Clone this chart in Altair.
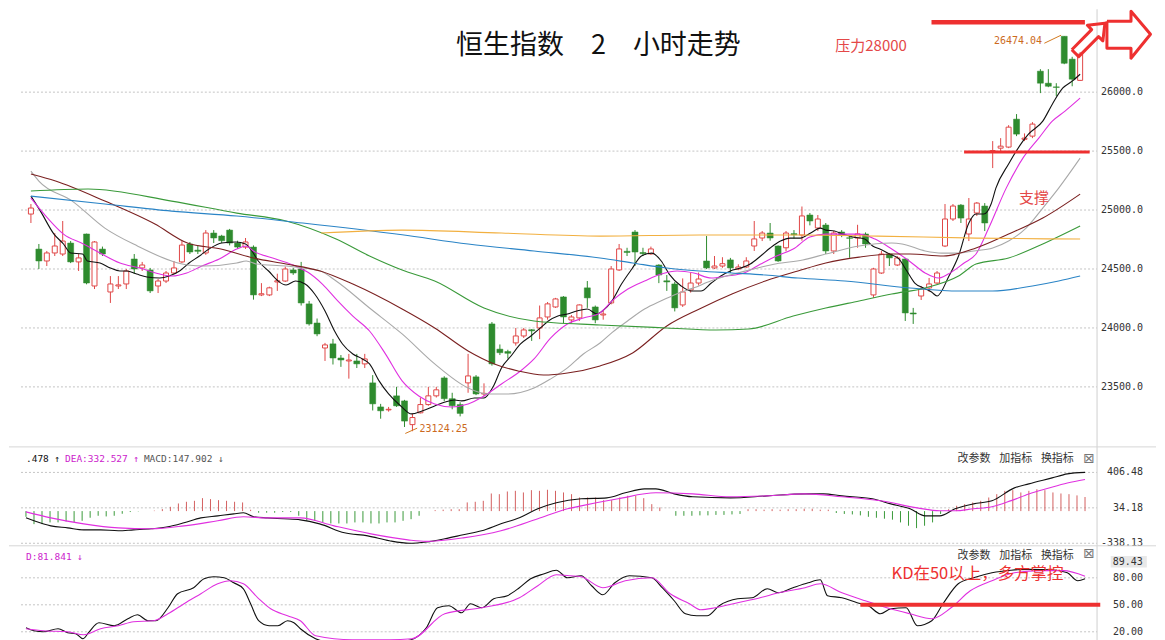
import altair as alt
import pandas as pd

# ---------------- candles (2-hour bars) ----------------
OPEN = [24966,24669,24568,24636,24627,24720,24560,24797,24356,24669,
        24305,24356,24373,24585,24509,24492,24356,24398,24466,24560,
        24712,24660,24636,24805,24780,24830,24720,24686,24686,24280,
        24280,24390,24398,24492,24500,24204,24042,23830,23865,23745,
        23720,23720,23695,23534,23330,23305,23424,23381,23180,23280,
        23350,23424,23576,23400,23350,23534,23585,23440,24034,23820,
        23800,23873,23932,23985,24000,24093,24178,24263,24068,24085,
        24340,24178,24110,24212,24492,24650,24814,24640,24628,24534,
        24400,24373,24195,24322,24381,24568,24509,24525,24577,24500,
        24517,24695,24763,24805,24695,24680,24800,24788,24958,24848,
        24873,24653,24814,24765,24763,24797,24280,24466,24627,24534,
        24585,24127,24271,24339,24381,24695,24924,25042,24797,24975,
        25034,25495,25525,25534,25771,25600,25627,26178,26076,26045,
        26474,26280,26100]
CLOSE = [25017,24568,24636,24695,24737,24560,24594,24381,24729,24627,
         24373,24365,24483,24500,24534,24314,24398,24466,24509,24703,
         24644,24650,24805,24763,24740,24720,24686,24729,24280,24290,
         24340,24400,24500,24466,24212,24034,23949,23856,23745,23728,
         23728,23695,23737,23356,23297,23310,23339,23210,23240,23350,
         23424,23475,23400,23340,23275,23593,23440,23445,23695,23790,
         23785,23932,23983,23975,24085,24204,24246,24093,24093,24195,
         24255,24068,24118,24500,24670,24640,24644,24630,24670,24449,
         24390,24170,24305,24381,24415,24509,24525,24545,24509,24517,
         24568,24755,24805,24763,24568,24805,24790,24950,24907,24924,
         24653,24805,24788,24760,24797,24712,24500,24627,24594,24594,
         24127,24118,24330,24373,24466,24924,25034,24932,24924,25059,
         24890,25505,25542,25703,25644,25610,25729,26076,26050,26040,
         26245,26110,26322]
HIGH = [25051,24712,24653,24805,24907,24737,24627,24800,24737,24690,
        24440,24440,24500,24627,24560,24509,24415,24483,24568,24737,
        24729,24695,24830,24830,24790,24840,24740,24763,24700,24380,
        24350,24460,24520,24510,24560,24229,24080,23873,23907,23770,
        23780,23780,23780,23600,23356,23330,23500,23390,23270,23410,
        23500,23500,23590,23450,23370,23780,23600,23530,24050,23860,
        23815,24000,24000,23990,24190,24220,24255,24270,24110,24200,
        24398,24190,24145,24525,24712,24680,24830,24680,24690,24540,
        24449,24390,24420,24470,24470,24780,24610,24600,24594,24540,
        24600,24907,24822,24890,24700,24822,24830,25030,24975,24958,
        24890,24822,24830,24780,24875,24810,24510,24653,24636,24610,
        24594,24170,24356,24424,24483,25051,25051,25051,25102,25068,
        25059,25585,25610,25720,25814,25650,25746,26195,26195,26076,
        26474,26300,26340]
LOW = [24890,24500,24525,24610,24610,24550,24483,24370,24330,24610,
       24212,24330,24330,24458,24483,24296,24296,24381,24458,24550,
       24627,24627,24620,24720,24720,24700,24670,24670,24240,24270,
       24270,24314,24390,24450,24190,24020,23930,23720,23690,23670,
       23570,23660,23660,23300,23230,23290,23330,23160,23124,23275,
       23340,23410,23380,23310,23250,23450,23430,23420,23680,23770,
       23740,23850,23915,23890,23905,24070,24170,24040,24040,24060,
       24170,24040,24070,24200,24483,24610,24525,24610,24620,24380,
       24314,24140,24178,24300,24360,24500,24500,24510,24466,24490,
       24509,24653,24737,24740,24560,24650,24760,24740,24870,24822,
       24627,24627,24770,24595,24680,24680,24255,24458,24525,24525,
       24059,24034,24237,24305,24373,24686,24907,24890,24737,24950,
       24822,25356,25500,25525,25627,25585,25610,25992,26042,25966,
       26237,26050,26095]

# ---------------- moving averages (bar index, price) ----------------
MA5 = [(0,25118),(1.2,24991),(2.9,24796),(4.1,24712),(5,24635),(6.5,24627),(7.1,24568),(8.7,24551),
       (10,24508),(11.2,24483),(12.1,24483),(13.3,24457),(14.6,24432),(16.2,24423),(17.4,24440),
       (18.7,24483),(19.9,24551),(21.2,24610),(22.4,24669),(24,24720),(25.8,24729),(27,24712),
       (27.8,24653),(28.6,24568),(29.9,24483),(31.1,24398),(32.1,24364),(33.3,24398),(34.5,24372),
       (35.7,24288),(37,24144),(38.2,23974),(39.2,23864),(40.5,23779),(41.7,23737),(42.6,23695),
       (43.8,23551),(45,23440),(46.5,23340),(47.9,23271),(49.2,23296),(50.8,23338),(52.1,23372),
       (53.3,23389),(54.2,23381),(55.8,23406),(57,23406),(58.2,23508),(59.2,23661),(60.4,23762),
       (61.6,23864),(62.9,23932),(64.1,24000),(65.1,24059),(66.3,24101),(67.5,24118),(68.7,24144),
       (70,24161),(71.2,24118),(71.9,24144),(73.1,24229),(74.3,24372),(75.6,24500),(76.8,24610),
       (78.1,24635),(79.3,24568),(80.3,24457),(81.8,24356),(83.1,24313),(84.3,24313),(85.6,24381),
       (86.8,24440),(88,24483),(89.3,24508),(90.5,24542),(91.8,24610),(93,24678),(94.3,24737),
       (95.5,24762),(96.8,24762),(98.1,24805),(99.3,24847),(100,24830),(101.1,24822),(102.1,24796),
       (103.4,24771),(104.9,24754),(105.9,24695),(106.8,24669),(108,24627),(109.2,24585),
       (110.2,24483),(111.2,24381),(112.3,24339),(113.3,24305),(114,24271),(115.5,24440),
       (116.7,24610),(118,24890),(118.9,24966),(119.9,24966),(120.8,25051),(121.4,25186),
       (123,25390),(124.8,25585),(125.5,25644),(127.3,25754),(128.5,25898),(129.8,26034),
       (131,26093),(132,26152)]
MA10 = [(0,25101),(2.1,24932),(4.1,24796),(6.6,24712),(8.7,24635),(11.2,24551),(13.7,24508),
        (16.2,24457),(17.8,24440),(19.6,24466),(21.5,24525),(23.7,24585),(25.9,24669),(27.1,24695),
        (28,24653),(30.8,24585),(33.3,24525),(34.9,24470),(36.7,24370),(38.6,24229),(40.5,24100),
        (42.6,23974),(44.6,23780),(46.7,23551),(48.8,23423),(50.8,23355),(52.9,23330),(55,23355),
        (57,23423),(59.2,23525),(61.6,23635),(63.3,23737),(65.4,23915),(67.5,24033),(69.5,24084),
        (71.6,24127),(73.1,24229),(75.1,24330),(77.2,24398),(79.3,24457),(81.3,24483),(83.4,24466),
        (85.6,24423),(87.5,24440),(89.7,24466),(91.8,24542),(93.8,24610),(95.9,24669),(98,24771),
        (100,24796),(102.1,24796),(104.2,24796),(106.2,24754),(108.3,24669),(110.5,24568),
        (112.5,24466),(114.2,24423),(115.4,24457),(117.4,24551),(118.9,24627),(120.5,24847),
        (122.7,25186),(124.8,25440),(126.8,25610),(128.5,25754),(130.1,25839),(132,25949)]
MA20 = [(0,25330),(1,25246),(5.2,25076),(9.3,24847),(13.4,24695),(17.7,24568),(19.7,24534),
        (21.8,24525),(25.9,24551),(27.1,24568),(28.4,24542),(32.1,24525),(36.4,24483),(38.4,24398),
        (42.6,24169),(46.7,23949),(50.8,23695),(55,23491),(57.5,23440),(60,23440),(63.3,23491),
        (65.4,23568),(67.5,23661),(69.5,23779),(71.6,23872),(73.1,23960),(75.1,24061),(77.2,24160),
        (79.3,24230),(81.3,24290),(83.4,24340),(85.6,24400),(87.5,24440),(89.7,24480),(91.8,24515),
        (93.8,24545),(97.1,24576),(100,24627),(104.2,24695),(108.3,24720),(109.6,24712),
        (112.5,24653),(114.6,24635),(116.7,24635),(118.6,24653),(121,24678),(123,24737),
        (125.2,24847),(127.3,25017),(129.3,25186),(132,25440)]
MA30 = [(0,25305),(3.1,25246),(9.3,25076),(15.6,24881),(19.7,24720),(23.9,24669),(28,24593),
        (32.1,24542),(36.4,24483),(40.5,24372),(46.7,24161),(50.8,24000),(55,23805),(58.3,23695),
        (61.3,23635),(64.5,23601),(67.5,23618),(71.6,23678),(75.7,23788),(80,24017),(84.1,24161),
        (88.2,24288),(92.4,24398),(96.5,24483),(100,24551),(104.2,24601),(108.3,24627),
        (110.6,24627),(114.8,24610),(118.9,24678),(123,24796),(127.3,24932),(132,25135)]
MA60 = [(0,25161),(7.2,25178),(17.7,25076),(25.9,24974),(32.1,24907),(38.4,24754),(42.6,24610),
        (46.7,24491),(50.8,24398),(57,24169),(63.3,24059),(71.6,24025),(80,24000),(86.2,23983),
        (90.3,23991),(95.9,24101),(100,24169),(104.2,24229),(108.3,24288),(112.5,24339),
        (116.7,24440),(118.9,24542),(123,24593),(127.3,24712),(132,24864)]
MA120 = [(0,25118),(9.3,25051),(17.7,24991),(25.9,24949),(34.2,24890),(46.7,24790),(55,24712),
         (63.3,24653),(71.6,24593),(75.7,24551),(80,24508),(84.1,24483),(88.2,24466),(92.4,24449),
         (96.5,24423),(102.4,24398),(110.6,24339),(116.8,24313),(121,24313),(126,24356),
         (129.3,24398),(132,24440)]
MA250 = [(36.5,24805),(46.7,24830),(59.2,24805),(71.6,24779),(84.1,24788),(96.5,24788),
         (106.5,24779),(118.9,24762),(132,24754)]

# ---------------- MACD ----------------
MACD_HIST = [-60,-137,-137,-119,-119,-109,-115,-102,-70,-49,
             -56,-49,-28,-10,-3,0,5,21,45,80,
             98,108,136,126,115,108,98,91,14,-17,
             -17,-17,-10,-10,-49,-102,-102,-119,-130,-130,
             -130,-119,-119,-130,-130,-119,-119,-102,-85,-49,
             0,10,15,20,20,91,98,108,185,178,
             206,213,196,220,213,224,213,196,178,143,
             143,143,115,115,143,161,161,136,73,38,
             0,-49,-49,-49,-45,-45,-40,-40,-35,-30,
             20,20,15,20,15,20,20,25,25,15,
             15,-20,-30,-35,-45,-60,-70,-80,-90,-119,
             -154,-179,-154,-119,-30,20,56,73,91,108,
             143,178,213,220,196,213,230,220,196,185,
             178,165,148]
DIF = [(0,-71),(1,-102),(3.1,-155),(5.2,-176),(7.2,-197),(9.3,-197),(11.5,-207),(13.4,-197),
       (15.6,-186),(17.7,-165),(19.7,-123),(21.8,-71),(23.9,-50),(25.9,-29),(27.1,-18),(28.4,-60),
       (30.1,-71),(32.1,-81),(34.2,-92),(36.6,-134),(39.7,-228),(42.6,-260),(45.3,-312),
       (47.8,-338),(49.9,-325),(52.2,-291),(54.5,-249),(56.8,-207),(59.2,-134),(61.5,-71),
       (63.8,24),(66.1,87),(69.2,129),(72.4,139),(74.7,192),(77.1,234),(78.5,234),(80.8,181),
       (83.1,150),(87.8,139),(92.4,160),(97.1,181),(99.4,181),(101.7,160),(105.5,129),(107.8,76),
       (110.2,24),(112.1,-50),(113.9,-50),(115.8,24),(118.1,76),(120.4,108),(123.2,244),(125,286),
       (127.9,349),(129.8,391),(132,406.48)]
DEA = [(0,-8),(3.1,-71),(7.2,-134),(11.5,-176),(15.6,-186),(19.7,-155),(23.9,-102),(27.1,-60),
       (30.1,-71),(34.2,-71),(38.4,-155),(43,-239),(47.6,-302),(49.9,-318),(54.5,-281),
       (59.2,-207),(63.8,-81),(67.5,24),(69.2,55),(73.8,129),(78.5,192),(83.1,181),(87.8,150),
       (92.4,160),(97.1,181),(101.7,150),(106.5,108),(111.1,34),(113.9,3),(115.8,3),(118.1,24),
       (120.4,45),(122.8,110),(125,180),(127.4,240),(129.8,296),(132,332.527)]

# ---------------- KD ----------------
K_LINE = [(0,24.5),(1,21.2),(2.2,20.1),(4,23.4),(5.2,19.0),(6.2,17.9),(7.1,12.3),(7.8,19.0),
          (9.1,30.0),(11,26.7),(12.7,34.5),(13.9,38.9),(15.2,32.3),(16.2,32.3),(17.7,46.7),
          (18.9,62.3),(20.9,69.0),(22.2,78.9),(23.4,81.2),(24.7,80.0),(25.9,74.5),(27.1,67.8),
          (28,51.2),(29,32.3),(30.3,26.7),(31.4,26.7),(32.6,32.3),(33.4,30.0),(34.2,23.4),
          (36.1,12.3),(38,8),(41.7,7),(45.5,8),(48,11.2),(49.9,24.5),(51.3,46.7),(52.7,49.0),
          (54.3,41.2),(55.4,51.2),(56.8,46.7),(58.3,56.7),(60,60.1),(61.5,69.0),(62.9,78.9),
          (64.6,84.5),(66.1,88.5),(67.5,80.0),(69.2,82.3),(70.5,71.2),(71.9,61.2),(73.4,74.5),
          (75.2,82.3),(78,80.0),(79.3,69.0),(80.8,54.5),(82.2,40.0),(83.6,37.8),(84.9,37.8),
          (86.4,49.0),(88.7,56.7),(90.5,57.8),(92.4,67.8),(93.8,63.4),(95.6,69.0),(97.5,74.5),
          (99,77.8),(99.9,60.1),(101.7,57.8),(103.6,52.3),(105,49.0),(106.5,40.0),(107.8,45.6),
          (109.7,46.7),(111.1,26.7),(112.9,32.3),(114.3,51.2),(116.2,73.4),(118.1,80.0),
          (120.4,85.6),(122.8,88.5),(125,89.43),(127.9,89.0),(129.8,85.6),(131.1,76.7),(132,78.9)]
D_LINE = [(0,23.4),(2.2,21.2),(5.2,20.1),(7.2,16.7),(9.3,23.4),(11.5,26.7),(13.4,31.2),
          (15.9,32.3),(17.7,40.0),(19.7,51.2),(21.8,62.3),(23.9,73.4),(25.5,76.7),(27.1,73.4),
          (28.9,57.8),(30.5,45.6),(32.6,37.8),(34.2,32.3),(36.1,15.6),(40.7,11.2),(45.3,11.2),
          (48.1,12.3),(52.2,40.0),(56.8,46.7),(61.5,57.8),(63.8,71.2),(66.1,83.4),(67.9,82.3),
          (69.2,81.2),(71.9,69.0),(74.7,76.7),(78,80.0),(80.3,62.3),(82.7,51.2),(84.1,44.5),
          (85.9,46.7),(88.7,52.3),(91.5,57.8),(93.8,63.4),(97.1,69.0),(99,73.4),(101.7,63.4),
          (104.6,54.5),(107.3,46.7),(110.2,40.0),(112.9,34.5),(115.3,46.7),(117.7,65.6),
          (120.4,76.7),(123.2,85.6),(126.5,88.0),(129.3,88.0),(132,81.841)]

# ---------------- axis ticks ----------------
MAIN_TICKS = [23500, 24000, 24500, 25000, 25500, 26000]
MAIN_LABELS = ["23500.0", "24000.0", "24500.0", "25000.0", "25500.0", "26000.0"]
MACD_TICKS = [-338.13, 34.18, 406.48]
MACD_LABELS = ["-338.13", "34.18", "406.48"]
KD_TICKS = [20, 50, 80]
KD_LABELS = ["20.00", "50.00", "80.00"]

# ---------------- annotations (bar index, value) ----------------
TITLE = "恒生指数\u30002\u3000小时走势"
TITLE_AT = (71.4, 26390)
PRESSURE_TXT = ("压力28000", 105.7, 26390)
SUPPORT_TXT = ("支撑", 126.2, 25101)
HIGH_TXT = ("26474.04", 127.2, 26432)
LOW_TXT = ("23124.25", 48.9, 23144)
HIGH_ARROW = [(127.5, 26415), (129.6, 26483)]
LOW_ARROW = [(48.6, 23150), (47.1, 23105)]
LEVELS = [(113.3, 132.6, 26593, 4.5), (117.4, 133.2, 25492, 3)]
# outlined arrows drawn at the top right corner (bar index, price)
TILT_ARROW = [(130.95, 26360), (133.45, 26530), (132.91, 26567), (135.12, 26585),
              (134.86, 26435), (134.32, 26471), (131.82, 26301), (130.95, 26360)]
RIGHT_ARROW = [(135.37, 26601), (138.4, 26601), (138.4, 26686), (140.85, 26491),
               (138.4, 26288), (138.4, 26373), (135.37, 26373), (135.37, 26601)]
MACD_HEAD = [(".478 ↑", 0.0, "#111111"), ("DEA:332.527 ↑", 4.86, "#cc22cc"),
             ("MACD:147.902 ↓", 14.7, "#555555")]
KD_HEAD = [("D:81.841 ↓", 0.0, "#cc22cc")]
TOOLS = [("改参数", 116.1), ("加指标", 121.3), ("换指标", 126.5)]
KD_NOTE = ("KD在50以上，多方掌控", 118.6, 83.8)
KD_LEVEL = [(104.0, 133.9, 50.0)]
KD_MAX_LABEL = ("89.43", 139.2, 97.8)

# ---------------- layout ----------------
W = 1077
H_MAIN, H_MACD, H_KD = 438, 99, 95
X_DOMAIN = [-0.62, 133.5]
Y_MAIN = [22991, 26703]
Y_MACD = [-364.8, 674.7]
Y_KD = [10.06, 115.6]

UP = "#e04646"
DN = "#2e8b2e"
ANN = "#ee3030"
GRID = "#c4c4c4"
SEP = "#d6d6d6"
MONO = "DejaVu Sans Mono"
CJK = "Noto Sans CJK SC"

XS = alt.Scale(domain=X_DOMAIN, nice=False, zero=False)
YS_MAIN = alt.Scale(domain=Y_MAIN, nice=False, zero=False)
YS_MACD = alt.Scale(domain=Y_MACD, nice=False, zero=False)
YS_KD = alt.Scale(domain=Y_KD, nice=False, zero=False)


def xenc(field="idx"):
    return alt.X(f"{field}:Q", scale=XS, axis=None)


def pairs_df(pairs, name, color):
    return pd.DataFrame({"idx": [p[0] for p in pairs], "v": [p[1] for p in pairs],
                         "name": name, "c": color})


def text_layer(rows, yscale, **kw):
    df = pd.DataFrame(rows, columns=["t", "idx", "v"])
    return alt.Chart(df).mark_text(**kw).encode(
        x=xenc(), y=alt.Y("v:Q", scale=yscale, axis=None), text="t:N")


def right_scale(ticks, labels, yscale, h):
    df = pd.DataFrame({"v": ticks, "t": labels})
    grid = alt.Chart(df).mark_rule(color=GRID, strokeDash=[2, 2], strokeWidth=1).encode(
        x=alt.value(0), x2=alt.value(W), y=alt.Y("v:Q", scale=yscale, axis=None))
    lbl = alt.Chart(df).mark_text(font=MONO, fontSize=10, color="#333333", align="right",
                                  baseline="middle").encode(
        x=alt.value(W + 46), y=alt.Y("v:Q", scale=yscale, axis=None), text="t:N")
    border = alt.Chart(pd.DataFrame({"s": [0]})).mark_rule(color="#cfcfcf", strokeWidth=1).encode(
        x=alt.value(W), y=alt.value(0), y2=alt.value(h))
    return [grid, lbl, border]


def separator():
    return alt.Chart(pd.DataFrame({"s": [0]})).mark_rule(color=SEP, strokeWidth=1).encode(
        x=alt.value(-12), x2=alt.value(W + 59), y=alt.value(0))


def colored_lines(df, yscale, **kw):
    return alt.Chart(df).mark_line(strokeWidth=1.1, interpolate="monotone", **kw).encode(
        x=xenc(), y=alt.Y("v:Q", scale=yscale, axis=None),
        color=alt.Color("c:N", scale=None), detail="name:N")


# ================= main price panel =================
candles = pd.DataFrame({"idx": list(range(len(OPEN))), "open": OPEN, "close": CLOSE,
                        "high": HIGH, "low": LOW})
up_cond = "datum.close >= datum.open"

wicks = alt.Chart(candles).mark_rule(strokeWidth=1).encode(
    x=xenc(), y=alt.Y("low:Q", scale=YS_MAIN, axis=None), y2="high:Q",
    color=alt.condition(up_cond, alt.value(UP), alt.value(DN)))

up_bodies = alt.Chart(candles).transform_filter(up_cond).mark_bar(
    fill="white", stroke=UP, strokeWidth=1).encode(
    x=xenc(), y=alt.Y("open:Q", scale=YS_MAIN, axis=None), y2="close:Q",
    size=alt.value(5))

dn_bodies = alt.Chart(candles).transform_filter("datum.close < datum.open").mark_bar(
    color=DN, stroke=DN, strokeWidth=0.5).encode(
    x=xenc(), y=alt.Y("open:Q", scale=YS_MAIN, axis=None), y2="close:Q",
    size=alt.value(6))

MA_SETS = [(MA5, "MA5", "#111111"), (MA10, "MA10", "#e030e0"), (MA20, "MA20", "#a9a9a9"),
           (MA30, "MA30", "#7a2020"), (MA60, "MA60", "#3a9a3a"), (MA120, "MA120", "#2a84c6"),
           (MA250, "MA250", "#f2b040")]
ma_df = pd.concat([pairs_df(p, n, c) for p, n, c in MA_SETS], ignore_index=True)
ma_lines = colored_lines(ma_df, YS_MAIN)

lv_df = pd.DataFrame(LEVELS, columns=["i0", "i1", "v", "w"])
levels = alt.Chart(lv_df).mark_rule(color=ANN).encode(
    x=xenc("i0"), x2="i1:Q", y=alt.Y("v:Q", scale=YS_MAIN, axis=None),
    strokeWidth=alt.StrokeWidth("w:Q", scale=None))

arrow_df = pd.concat([
    pd.DataFrame({"idx": [p[0] for p in TILT_ARROW], "v": [p[1] for p in TILT_ARROW],
                  "o": list(range(len(TILT_ARROW))), "g": "tilt"}),
    pd.DataFrame({"idx": [p[0] for p in RIGHT_ARROW], "v": [p[1] for p in RIGHT_ARROW],
                  "o": list(range(len(RIGHT_ARROW))), "g": "right"})], ignore_index=True)
big_arrow = alt.Chart(arrow_df).mark_line(color=ANN, strokeWidth=3, strokeJoin="round").encode(
    x=xenc(), y=alt.Y("v:Q", scale=YS_MAIN, axis=None), order="o:Q", detail="g:N")

small_arrows_df = pd.concat([
    pd.DataFrame({"idx": [p[0] for p in HIGH_ARROW], "v": [p[1] for p in HIGH_ARROW], "g": "h"}),
    pd.DataFrame({"idx": [p[0] for p in LOW_ARROW], "v": [p[1] for p in LOW_ARROW], "g": "l"})])
small_arrows = alt.Chart(small_arrows_df).mark_line(color="#d2781e", strokeWidth=1).encode(
    x=xenc(), y=alt.Y("v:Q", scale=YS_MAIN, axis=None), detail="g:N")

title_t = text_layer([(TITLE, TITLE_AT[0], TITLE_AT[1])], YS_MAIN, font=CJK, fontSize=27,
                     color="#111111", align="center", baseline="middle")
press_t = text_layer([PRESSURE_TXT], YS_MAIN, font=CJK, fontSize=15, color="#e44848",
                     align="center", baseline="middle")
supp_t = text_layer([SUPPORT_TXT], YS_MAIN, font=CJK, fontSize=15, color="#e44848",
                    align="center", baseline="middle")
high_t = text_layer([HIGH_TXT], YS_MAIN, font=MONO, fontSize=10, color="#cc6a1e",
                    align="right", baseline="middle")
low_t = text_layer([LOW_TXT], YS_MAIN, font=MONO, fontSize=10, color="#cc6a1e",
                   align="left", baseline="middle")

main = alt.layer(*right_scale(MAIN_TICKS, MAIN_LABELS, YS_MAIN, H_MAIN),
                 wicks, up_bodies, dn_bodies, ma_lines, levels, big_arrow, small_arrows,
                 title_t, press_t, supp_t, high_t, low_t).properties(width=W, height=H_MAIN)

# ================= MACD panel =================
hist_df = pd.DataFrame({"idx": list(range(len(MACD_HIST))), "h": MACD_HIST,
                        "zero": [0] * len(MACD_HIST)})
hist = alt.Chart(hist_df).mark_rule(strokeWidth=1).encode(
    x=xenc(), y=alt.Y("zero:Q", scale=YS_MACD, axis=None), y2="h:Q",
    color=alt.condition("datum.h >= 0", alt.value("#d46060"), alt.value("#3a9a3a")))
macd_df = pd.concat([pairs_df(DIF, "DIF", "#111111"), pairs_df(DEA, "DEA", "#e030e0")],
                    ignore_index=True)
macd_lines = colored_lines(macd_df, YS_MACD)
head_df = pd.DataFrame(MACD_HEAD, columns=["t", "idx", "c"])
head_df["v"] = 548.7
macd_head = alt.Chart(head_df).mark_text(font=MONO, fontSize=9.5, align="left",
                                         baseline="middle").encode(
    x=xenc(), y=alt.Y("v:Q", scale=YS_MACD, axis=None), text="t:N",
    color=alt.Color("c:N", scale=None))
tools1 = text_layer([(t, i, 548.7) for t, i in TOOLS], YS_MACD, font=CJK, fontSize=11,
                    color="#333333", align="left", baseline="middle")
box1 = text_layer([("⊠", 132.5, 551.0)], YS_MACD, font="DejaVu Sans", fontSize=14,
                  color="#777777", align="center", baseline="middle")
macd = alt.layer(*right_scale(MACD_TICKS, MACD_LABELS, YS_MACD, H_MACD),
                 hist, macd_lines, macd_head, tools1, box1, separator()).properties(
    width=W, height=H_MACD)

# ================= KD panel =================
kd_df = pd.concat([pairs_df(K_LINE, "K", "#111111"), pairs_df(D_LINE, "D", "#e030e0")],
                  ignore_index=True)
kd_lines = colored_lines(kd_df, YS_KD, clip=True)
kd_lv_df = pd.DataFrame(KD_LEVEL, columns=["i0", "i1", "v"])
kd_level = alt.Chart(kd_lv_df).mark_rule(color=ANN, strokeWidth=4).encode(
    x=xenc("i0"), x2="i1:Q", y=alt.Y("v:Q", scale=YS_KD, axis=None))
kd_head_df = pd.DataFrame(KD_HEAD, columns=["t", "idx", "c"])
kd_head_df["v"] = 103.4
kd_head = alt.Chart(kd_head_df).mark_text(font=MONO, fontSize=9.5, align="left",
                                          baseline="middle").encode(
    x=xenc(), y=alt.Y("v:Q", scale=YS_KD, axis=None), text="t:N",
    color=alt.Color("c:N", scale=None))
tools2 = text_layer([(t, i, 104.5) for t, i in TOOLS], YS_KD, font=CJK, fontSize=11,
                    color="#333333", align="left", baseline="middle")
box2 = text_layer([("⊠", 132.5, 106.0)], YS_KD, font="DejaVu Sans", fontSize=14,
                  color="#777777", align="center", baseline="middle")
kd_note = text_layer([KD_NOTE], YS_KD, font=CJK, fontSize=16.5, color="#ee3030",
                     align="center", baseline="middle")
max_box_df = pd.DataFrame({"i0": [135.2], "i1": [139.7], "v0": [91.4], "v1": [104.3]})
max_box = alt.Chart(max_box_df).mark_rect(color="#e8e8e8").encode(
    x=xenc("i0"), x2="i1:Q", y=alt.Y("v0:Q", scale=YS_KD, axis=None), y2="v1:Q")
max_lbl = text_layer([KD_MAX_LABEL], YS_KD, font=MONO, fontSize=10, color="#333333",
                     align="right", baseline="middle")
kd = alt.layer(*right_scale(KD_TICKS, KD_LABELS, YS_KD, H_KD),
               kd_lines, kd_level, kd_head, tools2, box2, kd_note, max_box, max_lbl,
               separator()).properties(width=W, height=H_KD)

chart = alt.vconcat(main, macd, kd, spacing=0, bounds="flush").properties(
    padding=0, background="white").configure_view(stroke="transparent")

chart.save("out.html", embed_options={"renderer": "svg", "actions": False})
